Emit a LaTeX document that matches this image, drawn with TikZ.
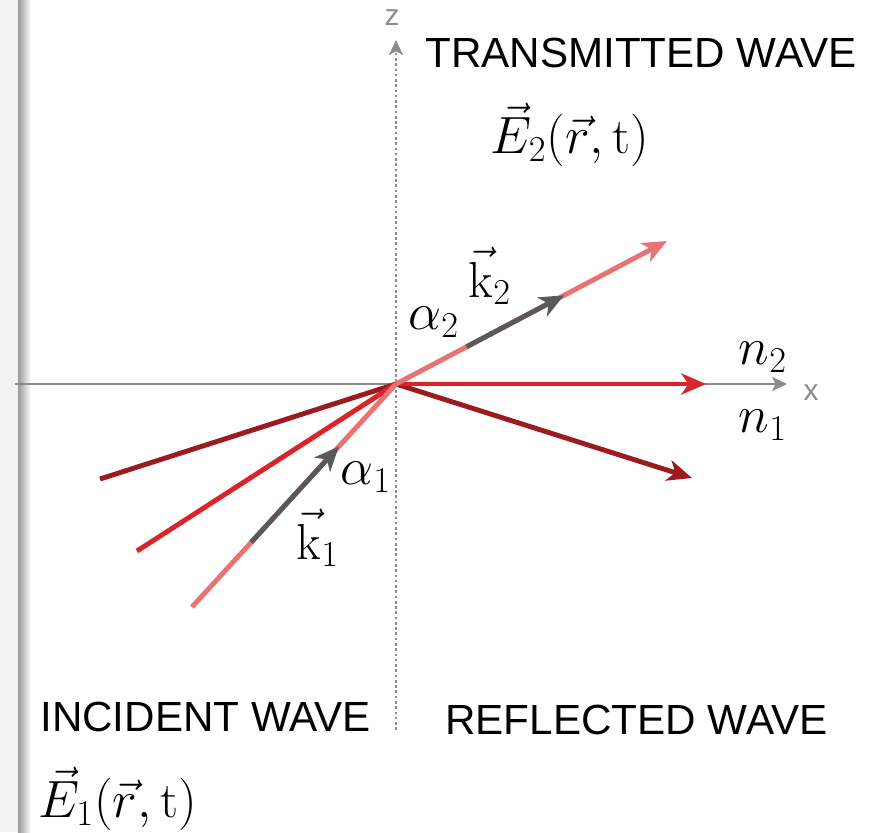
\documentclass[tikz,border=0pt]{standalone}
\usepackage{amsmath}
\usepackage{graphicx}
\usepackage{fontspec}
\newfontfamily\wavefont{Liberation Sans}
\usetikzlibrary{arrows.meta,calc}
\definecolor{darkred}{HTML}{9B1B1F}
\definecolor{midred}{HTML}{D9252A}
\definecolor{lightred}{HTML}{E97272}
\definecolor{kgrey}{HTML}{595959}
\definecolor{axisgrey}{HTML}{8C8C8C}
\definecolor{stripgrey}{HTML}{F2F2F2}
\newcommand{\mlab}[1]{\scalebox{1.2}{$#1$}}

\begin{document}
\begin{tikzpicture}[x=0.02cm, y=-0.02cm,
    ray/.style={line width=2.8pt},
    tip/.style={-{Stealth[length=14pt,width=12pt,inset=4pt]}},
    axis/.style={draw=axisgrey, line width=1.1pt, -{Stealth[length=8.5pt,width=8pt,inset=2pt]}},
    wave/.style={font=\wavefont\fontsize{24}{28}\selectfont, inner sep=0pt},
    lbl/.style={font=\fontsize{24}{28}\selectfont, inner sep=0pt},
    axlbl/.style={font=\wavefont\fontsize{17}{20}\selectfont, text=axisgrey, inner sep=0pt}
]
\useasboundingbox (0,0) rectangle (869,832);
% page edge
\fill[stripgrey] (0,0) rectangle (18,832);
\shade[left color=gray!80, right color=white] (18,0) rectangle (31,832);

\coordinate (O) at (396,384);
\coordinate (xs) at (15,384);
\coordinate (xe) at (787,384);
\coordinate (zs) at (396,730);
\coordinate (ze) at (396,40);
\draw[axis] (xs) -- (xe);
\draw[axis, dash pattern=on 1.5pt off 1.5pt] (zs) -- (ze);
\node[axlbl] (xlab) at (811,393) {x};
\node[axlbl] (zlab) at (392,18) {z};

% rays
\coordinate (inA) at (100,479);
\coordinate (refA) at (692,478);
\coordinate (inB) at (137,551);
\coordinate (outB) at (706,384);
\coordinate (inC) at (192,607);
\coordinate (outC) at (667,241);
\draw[ray, darkred] (inA) -- (O);
\draw[ray, darkred, tip] (O) -- (refA);
\draw[ray, midred] (inB) -- (O);
\draw[ray, midred, tip] (O) -- (outB);
\draw[ray, lightred] (inC) -- (O);
\draw[ray, lightred, tip] (O) -- (outC);
\draw[ray, kgrey, tip] ($(inC)!0.29!(O)$) -- ($(inC)!0.72!(O)$);
\draw[ray, kgrey, tip] ($(O)!0.26!(outC)$) -- ($(O)!0.62!(outC)$);

\node[lbl] (k1) at (318,538) {\mlab{\vec{\mathrm{k}}_1}};
\node[lbl] (a1) at (366,477) {\mlab{\alpha_1}};
\node[lbl] (a2) at (434,322) {\mlab{\alpha_2}};
\node[lbl] (k2) at (490,276) {\mlab{\vec{\mathrm{k}}_2}};
\node[lbl] (n2) at (763,357) {\mlab{n_2}};
\node[lbl] (n1) at (763,425) {\mlab{n_1}};

\node[wave, anchor=west] (trans) at (425,53) {TRANSMITTED WAVE};
\node[lbl] (E2) at (570,135) {\mlab{\vec{E}_2(\vec{r},\mathrm{t})}};
\node[wave, anchor=west] (inc) at (40,717) {INCIDENT WAVE};
\node[wave, anchor=west] (refl) at (445,720) {REFLECTED WAVE};
\node[lbl, anchor=west] (E1) at (38,799) {\mlab{\vec{E}_1(\vec{r},\mathrm{t})}};
\end{tikzpicture}
\end{document}
